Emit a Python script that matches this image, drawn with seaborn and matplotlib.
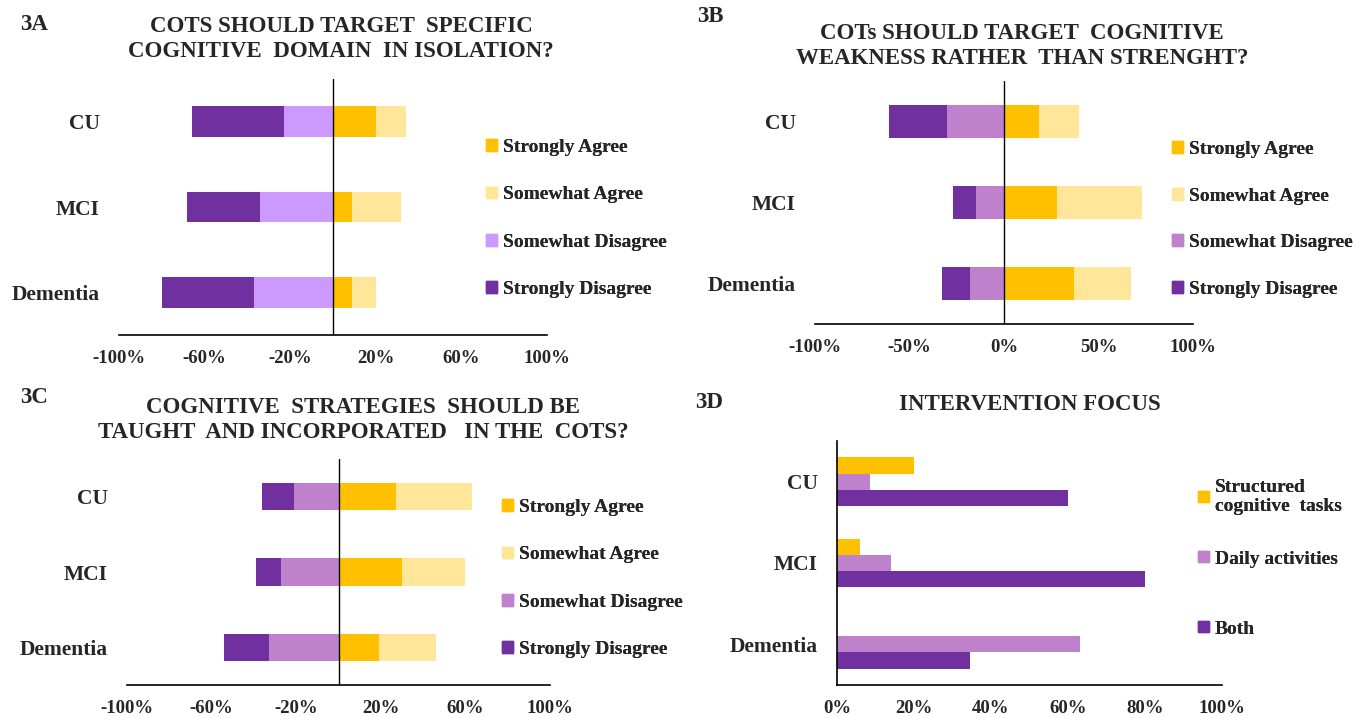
import numpy as np
import pandas as pd
import matplotlib
matplotlib.use("Agg")
import matplotlib.pyplot as plt
from matplotlib.patches import Patch
import seaborn as sns

# ---- data (percent of respondents) ----
groups = ["CU", "MCI", "Dementia"]

a_sd = [43, 34, 43]
a_swd = [23, 34, 37]
a_sa = [20, 9, 9]
a_swa = [14, 23, 11]

b_sd = [31, 12, 15]
b_swd = [30, 15, 18]
b_sa = [18.5, 28, 37]
b_swa = [21, 45, 30]

c_sd = [15, 12, 21]
c_swd = [21, 27, 33]
c_sa = [27, 30, 19]
c_swa = [36, 30, 27]

focus_labels = ["Structured\ncognitive  tasks", "Daily activities", "Both"]
d_struct = [20, 6, 0]
d_daily = [8.5, 14, 63]
d_both = [60, 80, 34.5]

likert_labels = ["Strongly Agree", "Somewhat Agree", "Somewhat Disagree", "Strongly Disagree"]
ticks_ac = [-100, -60, -20, 20, 60, 100]
ticks_b = [-100, -50, 0, 50, 100]
ticks_d = [0, 20, 40, 60, 80, 100]

titles = {
    "3A": "COTS SHOULD TARGET  SPECIFIC\nCOGNITIVE  DOMAIN  IN ISOLATION?",
    "3B": "COTs SHOULD TARGET  COGNITIVE\nWEAKNESS RATHER  THAN STRENGHT?",
    "3C": "COGNITIVE  STRATEGIES  SHOULD BE\nTAUGHT  AND INCORPORATED   IN THE  COTS?",
    "3D": "INTERVENTION FOCUS",
}

SA = "#FFC000"
SWA = "#FFE699"
SWD_A = "#CC99FF"
SWD = "#BF80CC"
SD = "#7030A0"

sns.set_style("white")
plt.rcParams["font.family"] = ["Liberation Serif", "DejaVu Serif"]
plt.rcParams["font.weight"] = "bold"

W, H = 1362, 718
fig = plt.figure(figsize=(W / 100, H / 100), dpi=100)
LEG_FONT = {"family": "Liberation Serif", "weight": "bold", "size": 14}


def px_axes(x0, x1, y0, y1):
    return fig.add_axes([x0 / W, 1 - y1 / H, (x1 - x0) / W, (y1 - y0) / H])


def style_axis(ax, ticks, lim, left_spine=False):
    ax.set_xlim(*lim)
    ax.set_ylim(2.5, -0.5)
    ax.set_xticks(ticks)
    ax.set_xticklabels([f"{t}%" for t in ticks], fontsize=13.5, fontweight="bold")
    ax.set_yticks(range(len(groups)))
    ax.set_yticklabels(groups, fontsize=15.5, fontweight="bold")
    ax.tick_params(axis="x", direction="in", length=7, width=1, pad=11, color="black")
    ax.tick_params(axis="y", length=0, pad=14)
    ax.set_xlabel("")
    ax.set_ylabel("")
    for s in ["top", "right"]:
        ax.spines[s].set_visible(False)
    ax.spines["left"].set_visible(left_spine)
    ax.spines["left"].set_color("black")
    ax.spines["bottom"].set_color("black")
    ax.spines["bottom"].set_linewidth(1.2)
    ax.grid(False)


def likert(ax, sd, swd, sa, swa, swd_color, bh, ticks):
    sd, swd, sa, swa = map(np.array, (sd, swd, sa, swa))
    kw = dict(y=groups, orient="h", width=bh, saturation=1, linewidth=0, ax=ax)
    sns.barplot(x=-(sd + swd), color=SD, **kw)
    sns.barplot(x=-swd, color=swd_color, **kw)
    sns.barplot(x=sa + swa, color=SWA, **kw)
    sns.barplot(x=sa, color=SA, **kw)
    ax.axvline(0, color="black", lw=1)
    style_axis(ax, ticks, (-100, 100))


def legend(handles, labels, x, y, spacing, loc="upper left"):
    fig.add_artist(fig.legend(handles, labels, loc=loc, bbox_to_anchor=(x / W, 1 - y / H),
                              frameon=False, handlelength=0.55, handleheight=0.55,
                              handletextpad=0.3, labelspacing=spacing, borderpad=0,
                              borderaxespad=0, prop=LEG_FONT))


# 3A
ax = px_axes(119, 547, 79, 335)
likert(ax, a_sd, a_swd, a_sa, a_swa, SWD_A, 0.36, ticks_ac)
legend([Patch(color=c) for c in (SA, SWA, SWD_A, SD)], likert_labels, 486, 139, 1.56)

# 3B
ax = px_axes(815, 1193, 81, 324)
likert(ax, b_sd, b_swd, b_sa, b_swa, SWD, 0.40, ticks_b)
legend([Patch(color=c) for c in (SA, SWA, SWD, SD)], likert_labels, 1172, 141, 1.52)

# 3C
ax = px_axes(127, 550, 459, 685)
likert(ax, c_sd, c_swd, c_sa, c_swa, SWD, 0.36, ticks_ac)
legend([Patch(color=c) for c in (SA, SWA, SWD, SD)], likert_labels, 502, 499, 1.56)

# 3D
ax = px_axes(837, 1222, 441, 685)
long = pd.DataFrame({
    "group": groups * 3,
    "focus": [f for f in focus_labels for _ in groups],
    "value": d_struct + d_daily + d_both,
})
sns.barplot(data=long, y="group", x="value", hue="focus", hue_order=focus_labels,
            palette=[SA, SWD, SD], orient="h", width=0.6, saturation=1,
            linewidth=0, legend=False, ax=ax)
style_axis(ax, ticks_d, (0, 100), left_spine=True)
ax.spines["left"].set_linewidth(1.2)
for lab, col, yc in zip(focus_labels, (SA, SWD, SD), (497, 559, 629)):
    legend([Patch(color=col)], [lab], 1198, yc, 0, loc="center left")

# titles and panel labels
for lab, (tx, ty, lx, ly) in {"3A": (341, 39, 20, 25), "3B": (1022, 46, 697, 17),
                               "3C": (363, 420, 20, 398), "3D": (1030, 405, 695, 402)}.items():
    fig.text(tx / W, 1 - ty / H, titles[lab], ha="center", va="center", fontsize=16.5,
             fontweight="bold", linespacing=1.2)
    fig.text(lx / W, 1 - ly / H, lab, ha="left", va="center", fontsize=16.5, fontweight="bold")

fig.savefig("out.png", dpi=100)
